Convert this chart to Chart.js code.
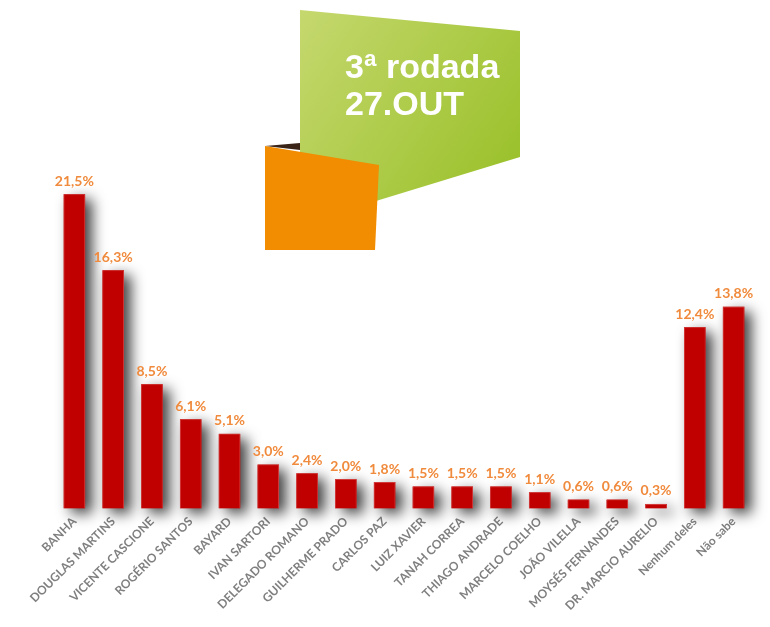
<!DOCTYPE html>
<html>
<head>
<meta charset="utf-8">
<script src="https://cdn.jsdelivr.net/npm/chart.js@4"></script>
<style>
  html, body { margin: 0; padding: 0; background: #fff; }
  #wrap { width: 770px; height: 627px; position: relative; }
</style>
</head>
<body>
<div id="wrap"><canvas id="pollChart"></canvas></div>
<script>
var candidates = ['BANHA', 'DOUGLAS MARTINS', 'VICENTE CASCIONE', 'ROGÉRIO SANTOS', 'BAYARD',
    'IVAN SARTORI', 'DELEGADO ROMANO', 'GUILHERME PRADO', 'CARLOS PAZ', 'LUIZ XAVIER',
    'TANAH CORREA', 'THIAGO ANDRADE', 'MARCELO COELHO', 'JOÃO VILELLA', 'MOYSÉS FERNANDES',
    'DR. MARCIO AURELIO', 'Nenhum deles', 'Não sabe'];
var percentages = [21.5, 16.3, 8.5, 6.1, 5.1, 3.0, 2.4, 2.0, 1.8, 1.5, 1.5, 1.5, 1.1, 0.6, 0.6, 0.3, 12.4, 13.8];
var roundTitle = '3ª rodada';
var roundDate = '27.OUT';

// green / orange badge at the top
var badgePlugin = {
    id: 'badge',
    beforeDraw: function(chart) {
        var c = chart.ctx;
        c.save();
        var g = c.createLinearGradient(300, 10, 520, 160);
        g.addColorStop(0, '#c5d86e');
        g.addColorStop(1, '#9bc12c');
        c.fillStyle = g;
        c.beginPath();
        c.moveTo(300, 10);
        c.lineTo(520, 31);
        c.lineTo(520, 157);
        c.lineTo(376, 201);
        c.lineTo(300, 201);
        c.closePath();
        c.fill();

        c.fillStyle = '#3a2418';
        c.beginPath();
        c.moveTo(265, 146);
        c.lineTo(300, 143);
        c.lineTo(300, 150);
        c.closePath();
        c.fill();

        c.fillStyle = '#f28c00';
        c.beginPath();
        c.moveTo(265, 146);
        c.lineTo(379, 165);
        c.lineTo(375, 250);
        c.lineTo(265, 250);
        c.closePath();
        c.fill();

        c.fillStyle = '#ffffff';
        c.font = 'bold 34px "Liberation Sans"';
        c.textBaseline = 'alphabetic';
        c.fillText(roundTitle, 345, 78);
        c.fillText(roundDate, 345, 115);
        c.restore();
    }
};

// soft shadow behind the bars, drawn from the bar elements
var shadowPlugin = {
    id: 'barShadow',
    beforeDatasetsDraw: function(chart) {
        var c = chart.ctx;
        var meta = chart.getDatasetMeta(0);
        c.save();
        c.shadowColor = 'rgba(0,0,0,0.75)';
        c.shadowBlur = 14;
        c.shadowOffsetX = 7;
        c.shadowOffsetY = 5;
        c.fillStyle = '#c00000';
        meta.data.forEach(function(bar) {
            var p = bar.getProps(['x', 'y', 'base', 'width'], true);
            c.fillRect(p.x - p.width / 2, p.y, p.width, p.base - p.y);
        });
        c.restore();
    }
};

// value labels above bars
var valueLabels = {
    id: 'valueLabels',
    afterDatasetsDraw: function(chart) {
        var c = chart.ctx;
        var meta = chart.getDatasetMeta(0);
        c.save();
        c.fillStyle = '#f08a3c';
        c.font = 'bold 14px Lato';
        c.textAlign = 'center';
        c.textBaseline = 'bottom';
        meta.data.forEach(function(bar, i) {
            c.fillText(percentages[i].toFixed(1).replace('.', ',') + '%', bar.x, bar.y - 6);
        });
        c.restore();
    }
};

var ctx = document.getElementById('pollChart').getContext('2d');
var pollChart = new Chart(ctx, {
    type: 'bar',
    data: {
        labels: candidates,
        datasets: [{
            data: percentages,
            backgroundColor: '#c00000',
            borderColor: '#d23a3a',
            borderWidth: 1,
            categoryPercentage: 0.75,
            barPercentage: 0.74
        }]
    },
    options: {
        responsive: true,
        maintainAspectRatio: false,
        animation: false,
        layout: {
            padding: { left: 55, right: 17, top: 143, bottom: 8 }
        },
        plugins: {
            legend: { display: false },
            tooltip: { enabled: false }
        },
        scales: {
            x: {
                grid: { display: false, drawTicks: false },
                border: { display: false },
                ticks: {
                    color: '#7f7f7f',
                    font: { family: 'Lato', size: 12, weight: 'bold' },
                    minRotation: 45,
                    maxRotation: 45,
                    padding: 6,
                    autoSkip: false
                }
            },
            y: {
                display: false,
                min: 0,
                max: 25
            }
        }
    },
    plugins: [badgePlugin, shadowPlugin, valueLabels]
});
</script>
</body>
</html>
